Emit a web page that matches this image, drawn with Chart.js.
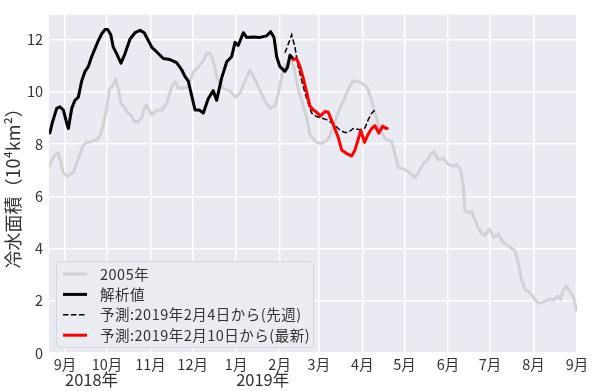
<!DOCTYPE html>
<html>
<head>
<meta charset="utf-8">
<script src="https://cdn.jsdelivr.net/npm/chart.js@4.4.1/dist/chart.umd.min.js"></script>
<style>
html,body{margin:0;padding:0;background:#fff;}
canvas{display:block;}
</style>
</head>
<body>
<canvas id="c" width="595" height="391"></canvas>
<script>
// x values are days counted from 2018-09-01
const monthDays = [0,30,61,91,122,153,181,212,242,273,303,334,365];
const monthLabels = ['9月','10月','11月','12月','1月','2月','3月','4月','5月','6月','7月','8月','9月'];
const yearDays = [0,122];
const yearLabels = ['2018年','2019年'];
const yTicks = [0,2,4,6,8,10,12];

const seriesNames = ['2005年','解析値','予測:2019年2月4日から(先週)','予測:2019年2月10日から(最新)'];

const y2005Days = [-11.9,-9.5,-7.1,-4.8,-2.9,-1.2,1.2,3.6,5.9,8.3,10.7,13.0,15.5,17.8,20.2,22.6,24.9,27.3,29.7,31.6,34.0,36.1,38.0,39.9,42.3,44.7,47.0,49.4,51.8,54.7,56.5,58.2,61.8,65.4,68.9,72.5,76.1,78.4,80.8,84.3,87.9,91.4,95.0,98.6,101.0,103.3,105.7,108.1,110.5,114.0,117.6,121.2,124.7,128.3,131.9,134.2,137.8,142.6,146.1,149.7,152.0,155.6,160.4,162.7,166.3,169.8,172.3,174.6,177.0,179.4,183.0,186.5,188.9,192.4,196.0,199.1,201.9,205.1,209.1,212.6,215.5,217.9,221.0,224.5,228.1,232.9,235.2,237.6,241.1,244.7,249.5,253.0,255.4,257.8,260.2,263.0,266.1,269.6,273.2,276.8,279.2,282.0,283.9,285.1,287.5,289.9,292.2,294.6,297.0,299.4,302.4,305.8,308.8,312.0,317.2,320.7,323.1,325.5,327.9,330.9,333.8,337.3,342.1,345.2,348.0,351.6,353.3,355.2,357.6,360.0,362.3,364.7];
const y2005Values = [7.09,7.39,7.58,7.67,7.27,6.9,6.78,6.84,6.9,7.27,7.64,7.95,8.07,8.07,8.14,8.16,8.32,8.75,9.37,10.11,10.24,10.48,10.11,9.56,9.43,9.19,9.12,8.88,8.85,9.0,9.37,9.49,9.12,9.31,9.31,9.56,10.2,10.4,10.15,10.15,10.2,10.75,10.95,11.2,11.47,11.5,11.2,10.6,10.27,10.11,10.05,9.8,9.95,10.42,10.85,10.62,10.2,9.65,9.37,9.47,9.9,10.91,11.22,11.05,10.1,9.49,9.0,8.38,8.2,8.07,8.02,8.14,8.32,8.88,9.37,9.74,10.11,10.42,10.4,10.3,10.17,9.8,9.15,8.6,8.2,8.1,7.64,7.1,7.05,6.96,6.72,7.0,7.27,7.33,7.58,7.72,7.39,7.46,7.24,7.15,7.22,7.02,6.41,5.45,5.38,5.42,5.1,4.8,4.58,4.49,4.74,4.43,4.56,4.25,4.06,3.92,3.45,2.8,2.43,2.33,2.15,1.9,1.98,2.07,2.02,2.18,2.05,2.42,2.55,2.35,2.15,1.65];

const analysisDays = [-10.7,-9.1,-5.9,-3.6,-1.2,1.2,2.4,4.8,7.1,9.5,11.9,14.3,16.6,19.0,21.4,23.7,26.2,28.5,30.4,32.6,34.4,36.8,39.9,42.8,46.3,49.9,53.5,56.5,58.2,61.8,65.4,70.1,74.8,79.6,83.2,85.5,87.9,90.3,92.7,95.7,98.6,102.1,105.7,108.1,111.7,115.3,118.8,121.2,123.5,127.1,129.5,134.2,139.0,143.8,146.6,149.0,150.9,153.2,156.8,158.6,160.4,162.1];
const analysisValues = [8.44,8.81,9.37,9.43,9.31,8.81,8.6,9.37,9.68,9.8,10.42,10.79,10.97,11.35,11.66,11.96,12.23,12.39,12.39,12.2,11.72,11.47,11.1,11.47,12.02,12.27,12.36,12.27,12.09,11.72,11.53,11.28,11.24,11.12,10.85,10.6,10.42,9.86,9.31,9.31,9.19,9.74,10.05,9.68,10.54,11.16,11.35,11.9,11.78,12.27,12.09,12.11,12.09,12.15,12.31,12.09,11.35,10.97,10.79,10.94,11.41,11.3];

const fcstFeb4Days = [156.8,158.6,161.6,163.9,166.3,169.1,172.3,175.8,179.4,183.0,186.5,190.5,194.8,197.3,199.6,201.9,205.5,210.3,213.8,216.2,218.6,221.0];
const fcstFeb4Values = [11.5,11.75,12.19,11.72,10.97,10.36,9.74,9.19,9.06,9.0,8.94,8.81,8.6,8.5,8.45,8.45,8.6,8.55,8.62,8.94,9.19,9.31];

const fcstFeb10Days = [162.7,165.1,167.5,169.8,172.3,174.6,177.0,179.4,182.1,185.3,187.7,191.3,194.8,197.3,200.8,204.3,206.7,209.1,210.9,213.5,215.8,218.6,221.0,223.7,226.4,228.1,229.7];
const fcstFeb10Values = [11.24,11.28,10.97,10.54,9.99,9.46,9.31,9.22,9.08,9.25,9.22,8.75,8.26,7.77,7.64,7.55,7.77,8.2,8.53,8.07,8.35,8.6,8.71,8.43,8.69,8.63,8.6];

function pts(xs, ys){ return xs.map((x,i)=>({x:x, y:ys[i]})); }

const FONT = '"Noto Sans CJK JP", "Noto Sans", sans-serif';
const TXT = '#333333';

const legendPlugin = {
  id: 'boxLegend',
  afterDatasetsDraw(chart){
    const ctx = chart.ctx;
    const x0 = 56, y0 = 261, w = 257, h = 86;
    ctx.save();
    ctx.beginPath();
    if (ctx.roundRect) ctx.roundRect(x0+0.5, y0+0.5, w, h, 3); else ctx.rect(x0+0.5,y0+0.5,w,h);
    ctx.fillStyle = '#ebebf2';
    ctx.fill();
    ctx.strokeStyle = '#d6d6dd';
    ctx.lineWidth = 1;
    ctx.stroke();
    const ds = chart.data.datasets;
    [0,1,2,3].forEach((i, r)=>{
      const d = ds[i];
      const cy = 274 + r*20.4;
      ctx.beginPath();
      ctx.setLineDash(d.borderDash || []);
      ctx.strokeStyle = d.borderColor;
      ctx.lineWidth = d.borderWidth;
      ctx.moveTo(63, cy); ctx.lineTo(87, cy);
      ctx.stroke();
      ctx.setLineDash([]);
      ctx.fillStyle = TXT;
      ctx.font = '14.5px ' + FONT;
      if ('letterSpacing' in ctx) ctx.letterSpacing = '0.5px';
      ctx.textAlign = 'left';
      ctx.textBaseline = 'middle';
      ctx.fillText(d.label, 100, cy);
      if ('letterSpacing' in ctx) ctx.letterSpacing = '0px';
    });
    ctx.restore();
  }
};

const yearPlugin = {
  id: 'yearLabels',
  afterDraw(chart){
    const ctx = chart.ctx;
    const xs = chart.scales.x;
    ctx.save();
    ctx.fillStyle = TXT;
    ctx.font = '16.5px ' + FONT;
    ctx.textAlign = 'left';
    ctx.textBaseline = 'middle';
    yearDays.forEach((d,i)=>{
      ctx.fillText(yearLabels[i], xs.getPixelForValue(d), 380);
    });
    ctx.restore();
  }
};

new Chart(document.getElementById('c'), {
  type: 'line',
  data: {
    datasets: [
      { label: seriesNames[0], data: pts(y2005Days, y2005Values), borderColor: '#d2d2d4', borderWidth: 3, pointRadius: 0, order: 4, borderJoinStyle:'round', borderCapStyle:'round' },
      { label: seriesNames[1], data: pts(analysisDays, analysisValues), borderColor: '#000000', borderWidth: 3, pointRadius: 0, order: 3, borderJoinStyle:'round', borderCapStyle:'round' },
      { label: seriesNames[2], data: pts(fcstFeb4Days, fcstFeb4Values), borderColor: '#000000', borderWidth: 1.5, borderDash: [5.5, 2.5], pointRadius: 0, order: 2 },
      { label: seriesNames[3], data: pts(fcstFeb10Days, fcstFeb10Values), borderColor: '#ff0000', borderWidth: 3, pointRadius: 0, order: 1, borderJoinStyle:'round', borderCapStyle:'round' }
    ]
  },
  options: {
    responsive: false,
    animation: false,
    devicePixelRatio: 1,
    layout: { padding: { top: 3, right: 18, left: 0, bottom: 0 } },
    plugins: { legend: { display: false }, tooltip: { enabled: false } },
    scales: {
      x: {
        type: 'linear',
        min: -11.4, max: 365,
        afterBuildTicks(s){ s.ticks = monthDays.map(v=>({value:v})); },
        afterFit(s){ s.height = 38; },
        ticks: {
          autoSkip: false, maxRotation: 0, padding: 3, color: TXT,
          font: { family: FONT, size: 14.5 },
          callback(v){ const i = monthDays.indexOf(v); return i >= 0 ? monthLabels[i] : ''; }
        },
        grid: { color: '#ffffff', lineWidth: 1.5, drawTicks: false },
        border: { display: false }
      },
      y: {
        type: 'linear',
        min: 0, max: 12.96,
        afterBuildTicks(s){ s.ticks = yTicks.map(v=>({value:v})); },
        afterFit(s){ s.width = 49; },
        ticks: { padding: 6, color: TXT, font: { family: FONT, size: 14.5 } },
        grid: { color: '#ffffff', lineWidth: 1.5, drawTicks: false },
        border: { display: false },
        title: { display: true, text: '冷水面積（10⁴km²）', color: TXT, font: { family: FONT, size: 18 }, padding: { top: 2, bottom: 0 } }
      }
    }
  },
  plugins: [
    { id:'bg', beforeDraw(chart){ const a = chart.chartArea, ctx = chart.ctx; ctx.save(); ctx.fillStyle='#ffffff'; ctx.fillRect(0,0,chart.width,chart.height); ctx.fillStyle='#eaeaf2'; ctx.fillRect(a.left, a.top, a.right-a.left, a.bottom-a.top); ctx.restore(); } },
    legendPlugin, yearPlugin
  ]
});
</script>
</body>
</html>
